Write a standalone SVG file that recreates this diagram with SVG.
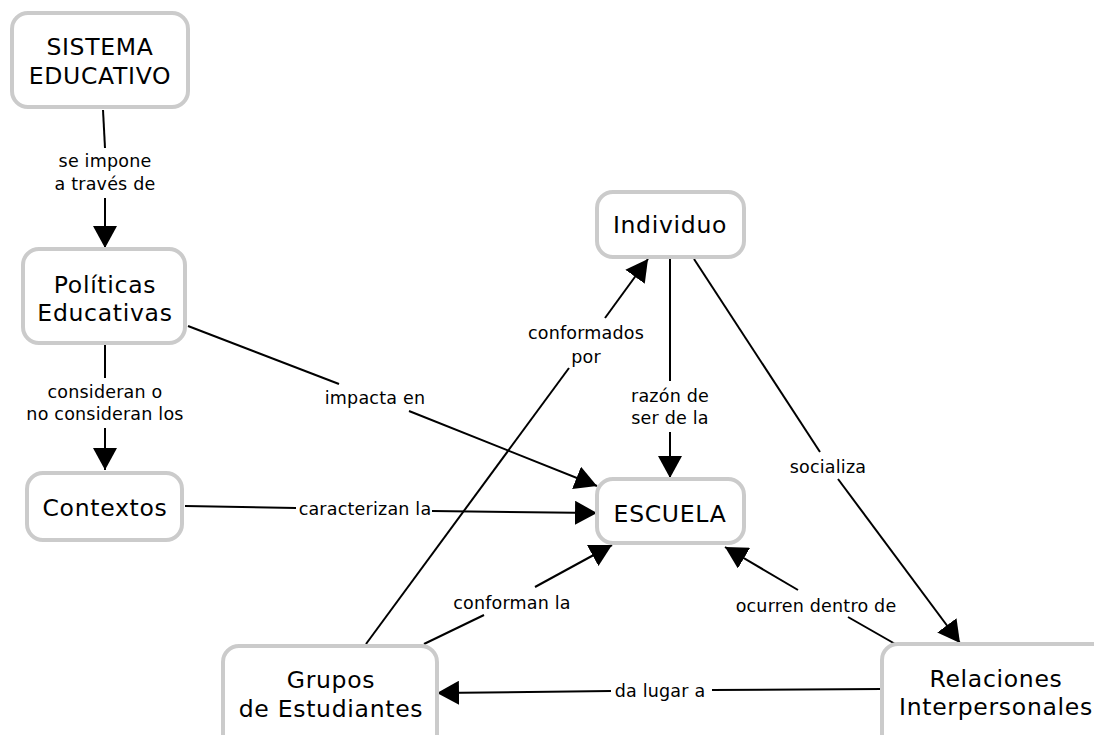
<svg xmlns="http://www.w3.org/2000/svg" width="1094" height="735" viewBox="0 0 1094 735">
<style>
.box{fill:#fff;stroke:#cbcbcb;stroke-width:4}
.nt{font-family:"DejaVu Sans","Verdana",sans-serif;font-size:23.5px;letter-spacing:0.7px;fill:#000;text-anchor:middle}
.lt{font-family:"DejaVu Sans","Verdana",sans-serif;font-size:17.5px;letter-spacing:0.2px;fill:#000;text-anchor:middle}
.ln{fill:none;stroke:#000;stroke-width:2}
.ar{fill:none;stroke:#000;stroke-width:2;marker-end:url(#ah)}
</style>
<defs>
<marker id="ah" markerUnits="userSpaceOnUse" markerWidth="22" markerHeight="24" refX="22" refY="12" orient="auto" viewBox="0 0 22 24">
<path d="M0,0 L22,12 L0,24 z" fill="#000"/>
</marker>
</defs>
<rect width="1094" height="735" fill="#fff"/>
<g id="connectors">
<g id="c1"><path class="ln" d="M103,110 L105,148"/><text class="lt" x="105" y="167">se impone</text><text class="lt" x="105" y="190">a través de</text><path class="ar" d="M105,198 L105,248"/></g>
<g id="c2"><path class="ln" d="M105,345 L105,378"/><text class="lt" x="105" y="398">consideran o</text><text class="lt" x="105" y="420">no consideran los</text><path class="ar" d="M105,428 L105,470"/></g>
<g id="c3"><path class="ln" d="M188,326 L339,384"/><text class="lt" x="375" y="404">impacta en</text><path class="ar" d="M409,411 L597,486"/></g>
<g id="c4"><path class="ln" d="M185,506 L296,508"/><text class="lt" x="365" y="515">caracterizan la</text><path class="ar" d="M432,511 L597,513"/></g>
<g id="c5"><path class="ln" d="M670,258 L670,381"/><text class="lt" x="670" y="402">razón de</text><text class="lt" x="670" y="424">ser de la</text><path class="ar" d="M670,432 L670,478"/></g>
<g id="c6"><path class="ln" d="M366,644 L569,368"/><text class="lt" x="586" y="339">conformados</text><text class="lt" x="586" y="363">por</text><path class="ar" d="M605,318 L648,259"/></g>
<g id="c7"><path class="ln" d="M424,644 L484,615"/><text class="lt" x="512" y="609">conforman la</text><path class="ar" d="M535,587 L612,545"/></g>
<g id="c8"><path class="ln" d="M897,645 L848,617"/><text class="lt" x="816" y="612">ocurren dentro de</text><path class="ar" d="M798,590 L725,547"/></g>
<g id="c9"><path class="ln" d="M694,259 L820,452"/><text class="lt" x="828" y="473">socializa</text><path class="ar" d="M838,479 L960,643"/></g>
<g id="c10"><path class="ln" d="M882,689 L712,690"/><text class="lt" x="660" y="697">da lugar a</text><path class="ar" d="M611,691 L437,693"/></g>
</g>
<g id="n1"><rect class="box" x="12" y="13" width="176" height="94" rx="16"/><text class="nt" x="100" y="55">SISTEMA</text><text class="nt" x="100" y="84">EDUCATIVO</text></g>
<g id="n2"><rect class="box" x="23" y="249" width="162" height="94" rx="16"/><text class="nt" x="105" y="293">Políticas</text><text class="nt" x="105" y="321">Educativas</text></g>
<g id="n3"><rect class="box" x="27" y="473" width="155" height="67" rx="16"/><text class="nt" x="105" y="516">Contextos</text></g>
<g id="n4"><rect class="box" x="597" y="192" width="147" height="65" rx="16"/><text class="nt" x="670" y="233">Individuo</text></g>
<g id="n5"><rect class="box" x="597" y="479" width="147" height="64" rx="16"/><text class="nt" x="670" y="522">ESCUELA</text></g>
<g id="n6"><rect class="box" x="223" y="646" width="214" height="110" rx="16"/><text class="nt" x="331" y="688">Grupos</text><text class="nt" x="331" y="717">de Estudiantes</text></g>
<g id="n7"><rect class="box" x="882" y="644" width="230" height="110" rx="16"/><text class="nt" x="996" y="687">Relaciones</text><text class="nt" x="996" y="715">Interpersonales</text></g>
</svg>
